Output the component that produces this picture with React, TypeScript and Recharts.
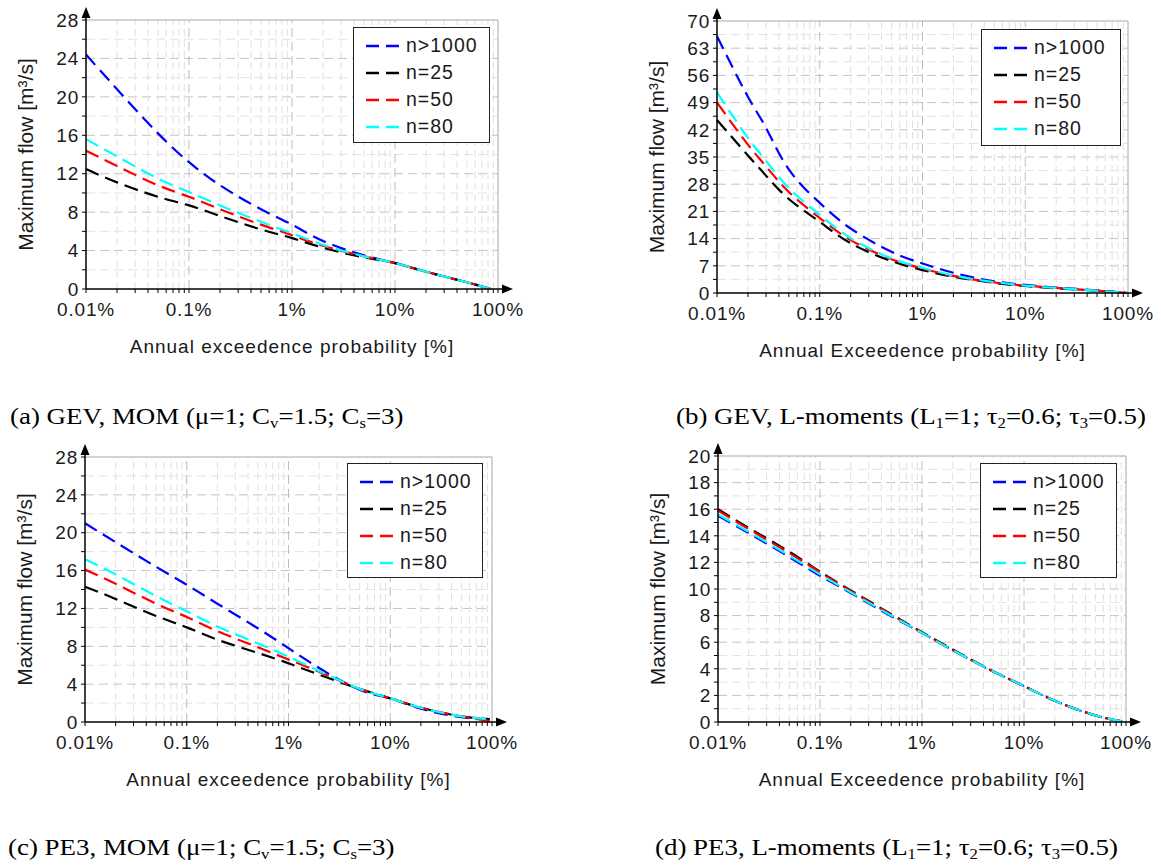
import React from "react";
import { LineChart, Line, XAxis, YAxis, ReferenceLine, Legend } from "recharts";

// series shown in every panel
const SERIES = [
  { key: "n1000", name: "n>1000", color: "#0000ff" },
  { key: "n25", name: "n=25", color: "#000000" },
  { key: "n50", name: "n=50", color: "#ff0000" },
  { key: "n80", name: "n=80", color: "#00ffff" },
];

// x axis (annual exceedence probability, %)
const xMajor = [0.01, 0.1, 1, 10, 100];
const xMinor = [
  0.02, 0.03, 0.04, 0.05, 0.06, 0.07, 0.08, 0.09,
  0.2, 0.3, 0.4, 0.5, 0.6, 0.7, 0.8, 0.9,
  2, 3, 4, 5, 6, 7, 8, 9,
  20, 30, 40, 50, 60, 70, 80, 90,
];
const xLabels = ["0.01%", "0.1%", "1%", "10%", "100%"];

// (a) GEV, MOM
const pA = [0.01, 0.02, 0.05, 0.1, 0.2, 0.5, 1, 2, 5, 10, 20, 50, 85];
const aN1000 = [24.4, 20.8, 16.2, 13.2, 10.8, 8.3, 6.7, 5.0, 3.5, 2.7, 1.8, 0.7, 0];
const aN25 = [12.5, 11.1, 9.6, 8.7, 7.6, 6.2, 5.3, 4.3, 3.3, 2.7, 1.8, 0.7, 0];
const aN50 = [14.4, 12.8, 10.8, 9.6, 8.3, 6.7, 5.6, 4.5, 3.4, 2.7, 1.8, 0.7, 0];
const aN80 = [15.6, 13.8, 11.5, 10.1, 8.7, 7.0, 5.8, 4.6, 3.4, 2.7, 1.8, 0.7, 0];

// (b) GEV, L-moments
const pB = [0.01, 0.02, 0.03, 0.05, 0.1, 0.2, 0.5, 1, 2, 5, 10, 20, 50, 100];
const bN1000 = [66.1, 50.5, 42.5, 31.8, 23.2, 16.6, 10.6, 7.6, 5.2, 3.0, 2.1, 1.4, 0.7, 0];
const bN25 = [44.5, 35.4, 30.2, 24.2, 18.3, 12.8, 8.2, 5.9, 4.2, 2.6, 1.8, 1.2, 0.6, 0];
const bN50 = [49.0, 38.2, 32.6, 26.0, 19.3, 13.6, 8.7, 6.3, 4.4, 2.7, 1.9, 1.3, 0.6, 0];
const bN80 = [51.6, 39.9, 34.0, 27.0, 20.1, 14.1, 8.9, 6.5, 4.5, 2.8, 1.9, 1.3, 0.6, 0];

// (c) PE3, MOM
const pC = [0.01, 0.02, 0.05, 0.1, 0.2, 0.5, 1, 2, 5, 10, 20, 50, 95];
const cN1000 = [21.0, 19.0, 16.4, 14.5, 12.5, 9.9, 7.8, 5.7, 3.4, 2.5, 1.4, 0.5, 0.3];
const cN25 = [14.3, 13.0, 11.2, 10.0, 8.7, 7.3, 6.2, 5.0, 3.5, 2.5, 1.5, 0.6, 0.3];
const cN50 = [16.1, 14.6, 12.5, 11.1, 9.6, 7.9, 6.6, 5.3, 3.5, 2.5, 1.5, 0.6, 0.1];
const cN80 = [17.2, 15.6, 13.3, 11.7, 10.1, 8.3, 6.9, 5.4, 3.5, 2.5, 1.5, 0.6, 0.3];

// (d) PE3, L-moments
const pD = [0.01, 0.02, 0.05, 0.1, 0.2, 0.5, 1, 2, 5, 10, 20, 50, 100];
const dN1000 = [15.5, 14.2, 12.4, 11.0, 9.7, 7.95, 6.7, 5.4, 3.8, 2.7, 1.6, 0.5, 0];
const dN25 = [16.0, 14.6, 12.8, 11.3, 9.9, 8.1, 6.75, 5.45, 3.8, 2.7, 1.6, 0.5, 0];
const dN50 = [15.9, 14.5, 12.7, 11.25, 9.85, 8.05, 6.7, 5.4, 3.8, 2.7, 1.6, 0.5, 0];
const dN80 = [15.6, 14.3, 12.5, 11.1, 9.75, 8.0, 6.7, 5.4, 3.8, 2.7, 1.6, 0.5, 0];

// y axis ticks
const yMajorA = [0, 4, 8, 12, 16, 20, 24, 28];
const yMinorA = [2, 6, 10, 14, 18, 22, 26];
const yMajorB = [0, 7, 14, 21, 28, 35, 42, 49, 56, 63, 70];
const yMinorB = [3.5, 10.5, 17.5, 24.5, 31.5, 38.5, 45.5, 52.5, 59.5, 66.5];
const yMajorD = [0, 2, 4, 6, 8, 10, 12, 14, 16, 18, 20];
const yMinorD = [1, 3, 5, 7, 9, 11, 13, 15, 17, 19];

function buildRows(p: number[], s1: number[], s2: number[], s3: number[], s4: number[]) {
  return p.map((v, i) => ({ p: v, n1000: s1[i], n25: s2[i], n50: s3[i], n80: s4[i] }));
}

const SANS = "'Liberation Sans', Arial, sans-serif";
const SERIF = "'Liberation Serif', 'Times New Roman', serif";
const TEXT = "#1a1a1a";

function arrowShape(ext: number) {
  return (props: any) => {
    const { x1, y1, x2, y2 } = props;
    const dx = x2 - x1;
    const dy = y2 - y1;
    const len = Math.hypot(dx, dy) || 1;
    const ux = dx / len;
    const uy = dy / len;
    const tx = x2 + ux * ext;
    const ty = y2 + uy * ext;
    const hl = 11;
    const hw = 4.5;
    const bx = tx - ux * hl;
    const by = ty - uy * hl;
    const px = -uy;
    const py = ux;
    return (
      <g>
        <line x1={x1} y1={y1} x2={bx} y2={by} stroke="#000" strokeWidth={1.5} />
        <polygon
          points={`${tx},${ty} ${bx + px * hw},${by + py * hw} ${bx - px * hw},${by - py * hw}`}
          fill="#000"
        />
      </g>
    );
  };
}

function LegendBox() {
  return (
    <div
      style={{
        border: "1.5px solid #222",
        background: "#fff",
        boxSizing: "border-box",
        width: "100%",
        height: "100%",
        paddingTop: 4,
        fontFamily: SANS,
        fontSize: 19.5,
        letterSpacing: 1,
        color: TEXT,
      }}
    >
      {SERIES.map((s) => (
        <div key={s.key} style={{ height: 27, display: "flex", alignItems: "center" }}>
          <svg width={60} height={10} style={{ flex: "none" }}>
            <line x1={12} y1={5} x2={45} y2={5} stroke={s.color} strokeWidth={2.5} strokeDasharray="13 7" />
          </svg>
          <span style={{ marginLeft: -8 }}>{s.name}</span>
        </div>
      ))}
    </div>
  );
}

interface PanelProps {
  data: any[];
  yMax: number;
  yMajor: number[];
  yMinor: number[];
  plot: { l: number; r: number; t: number; b: number };
  width: number;
  height: number;
  legend: { left: number; top: number; width: number; height: number };
  xTitle: string;
}

function Panel({ data, yMax, yMajor, yMinor, plot, width, height, legend, xTitle }: PanelProps) {
  const yTicks = [...yMajor, ...yMinor].sort((a, b) => a - b);
  const xTicks = [...xMajor, ...xMinor].sort((a, b) => a - b);
  const tickStyle = { fontFamily: SANS, fontSize: 19, fill: TEXT, letterSpacing: 0.8 };
  return (
    <LineChart
      width={width}
      height={height}
      data={data}
      margin={{ top: plot.t, right: width - plot.r, left: plot.l - 70, bottom: 0 }}
    >
      {yMinor.map((v) => (
        <ReferenceLine key={`hm${v}`} y={v} stroke="#e3e3e3" strokeDasharray="9 5" />
      ))}
      {yMajor
        .filter((v) => v > 0 && v < yMax)
        .map((v) => (
          <ReferenceLine key={`hM${v}`} y={v} stroke="#c4c4c4" strokeDasharray="9 5" />
        ))}
      {xMinor.map((v) => (
        <ReferenceLine key={`vm${v}`} x={v} stroke="#e0e0e0" strokeDasharray="7 4" />
      ))}
      {xMajor
        .filter((v) => v > 0.01 && v < 100)
        .map((v) => (
          <ReferenceLine key={`vM${v}`} x={v} stroke="#bdbdbd" strokeDasharray="9 5" />
        ))}
      <ReferenceLine y={yMax} stroke="#a8a8a8" />
      <ReferenceLine x={100} stroke="#a8a8a8" />
      <XAxis
        dataKey="p"
        type="number"
        scale="log"
        domain={[0.01, 100]}
        ticks={xTicks}
        interval={0}
        height={height - plot.b}
        axisLine={false}
        tickLine={{ stroke: "#000" }}
        tickSize={4}
        tickMargin={10}
        tick={tickStyle}
        tickFormatter={(v: number) => {
          const i = xMajor.indexOf(v);
          return i >= 0 ? xLabels[i] : "";
        }}
        label={(props: any) => {
          const vb = props.viewBox;
          return (
            <text
              x={vb.x + vb.width / 2}
              y={vb.y + 64}
              textAnchor="middle"
              style={{ fontFamily: SANS, fontSize: 19, fill: TEXT, letterSpacing: 1 }}
            >
              {xTitle}
            </text>
          );
        }}
      />
      <YAxis
        type="number"
        domain={[0, yMax]}
        ticks={yTicks}
        interval={0}
        width={70}
        axisLine={false}
        tickLine={{ stroke: "#000" }}
        tickSize={4}
        tickMargin={3}
        tick={tickStyle}
        tickFormatter={(v: number) => (yMajor.includes(v) ? String(v) : "")}
        label={(props: any) => {
          const vb = props.viewBox;
          const cx = vb.x + vb.width - 61;
          const cy = vb.y + vb.height / 2;
          return (
            <text
              x={cx}
              y={cy}
              textAnchor="middle"
              dominantBaseline="central"
              transform={`rotate(-90 ${cx} ${cy})`}
              style={{ fontFamily: SANS, fontSize: 21, fill: TEXT }}
            >
              Maximum flow [m³/s]
            </text>
          );
        }}
      />
      {SERIES.map((s) => (
        <Line
          key={s.key}
          dataKey={s.key}
          name={s.name}
          type="natural"
          stroke={s.color}
          strokeWidth={2.2}
          strokeDasharray="14 7"
          dot={false}
          activeDot={false}
          isAnimationActive={false}
        />
      ))}
      <ReferenceLine
        segment={[{ x: 0.01, y: 0 }, { x: 100, y: 0 }]}
        ifOverflow="visible"
        shape={arrowShape(15)}
      />
      <ReferenceLine
        segment={[{ x: 0.01, y: 0 }, { x: 0.01, y: yMax }]}
        ifOverflow="visible"
        shape={arrowShape(13)}
      />
      <Legend
        layout="vertical"
        align="center"
        verticalAlign="middle"
        content={() => <LegendBox />}
        wrapperStyle={{
          position: "absolute",
          left: legend.left,
          top: legend.top,
          width: legend.width,
          height: legend.height,
        }}
      />
    </LineChart>
  );
}

const sub = { fontSize: "0.62em", verticalAlign: "-0.28em" } as const;

function Caption({ left, top, children }: { left: number; top: number; children: React.ReactNode }) {
  return (
    <div
      style={{
        position: "absolute",
        left,
        top,
        fontFamily: SERIF,
        fontSize: 23,
        lineHeight: "23px",
        whiteSpace: "nowrap",
        color: "#000",
        transform: "scaleX(1.17)",
        transformOrigin: "left top",
      }}
    >
      {children}
    </div>
  );
}

export default function App() {
  const dataA = buildRows(pA, aN1000, aN25, aN50, aN80);
  const dataB = buildRows(pB, bN1000, bN25, bN50, bN80);
  const dataC = buildRows(pC, cN1000, cN25, cN50, cN80);
  const dataD = buildRows(pD, dN1000, dN25, dN50, dN80);
  return (
    <div style={{ position: "absolute", left: 0, top: 0, width: 1161, height: 867, background: "#fff", overflow: "hidden" }}>
      <div style={{ position: "absolute", left: 0, top: 0 }}>
        <Panel
          data={dataA}
          yMax={28}
          yMajor={yMajorA}
          yMinor={yMinorA}
          plot={{ l: 86, r: 498, t: 20, b: 289 }}
          width={560}
          height={370}
          legend={{ left: 353, top: 27, width: 137, height: 116 }}
          xTitle="Annual exceedence probability [%]"
        />
      </div>
      <div style={{ position: "absolute", left: 580, top: 0 }}>
        <Panel
          data={dataB}
          yMax={70}
          yMajor={yMajorB}
          yMinor={yMinorB}
          plot={{ l: 137, r: 548, t: 21, b: 293 }}
          width={575}
          height={370}
          legend={{ left: 401, top: 29, width: 140, height: 117 }}
          xTitle="Annual Exceedence probability [%]"
        />
      </div>
      <div style={{ position: "absolute", left: 0, top: 430 }}>
        <Panel
          data={dataC}
          yMax={28}
          yMajor={yMajorA}
          yMinor={yMinorA}
          plot={{ l: 85, r: 492, t: 27, b: 292 }}
          width={560}
          height={370}
          legend={{ left: 347, top: 33, width: 136, height: 115 }}
          xTitle="Annual exceedence probability [%]"
        />
      </div>
      <div style={{ position: "absolute", left: 580, top: 430 }}>
        <Panel
          data={dataD}
          yMax={20}
          yMajor={yMajorD}
          yMinor={yMinorD}
          plot={{ l: 138, r: 546, t: 26, b: 292 }}
          width={575}
          height={370}
          legend={{ left: 400, top: 33, width: 137, height: 115 }}
          xTitle="Annual Exceedence probability [%]"
        />
      </div>
      <Caption left={10} top={405}>
        (a) GEV, MOM (μ=1; C<span style={sub}>v</span>=1.5; C<span style={sub}>s</span>=3)
      </Caption>
      <Caption left={676} top={405}>
        (b) GEV, L-moments (L<span style={sub}>1</span>=1; τ<span style={sub}>2</span>=0.6; τ<span style={sub}>3</span>=0.5)
      </Caption>
      <Caption left={8} top={836}>
        (c) PE3, MOM (μ=1; C<span style={sub}>v</span>=1.5; C<span style={sub}>s</span>=3)
      </Caption>
      <Caption left={655} top={836}>
        (d) PE3, L-moments (L<span style={sub}>1</span>=1; τ<span style={sub}>2</span>=0.6; τ<span style={sub}>3</span>=0.5)
      </Caption>
    </div>
  );
}
